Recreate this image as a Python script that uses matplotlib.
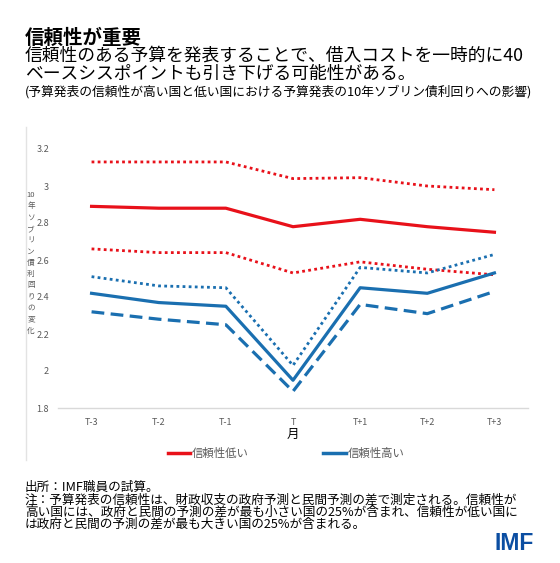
import matplotlib.pyplot as plt
from matplotlib.lines import Line2D

plt.rcParams['font.family'] = ['Noto Sans CJK JP', 'DejaVu Sans']

months = ['T-3', 'T-2', 'T-1', 'T', 'T+1', 'T+2', 'T+3']
low_mid = [2.89, 2.88, 2.88, 2.78, 2.82, 2.78, 2.75]
low_upper = [3.13, 3.13, 3.13, 3.04, 3.045, 3.00, 2.98]
low_lower = [2.66, 2.64, 2.64, 2.53, 2.59, 2.55, 2.52]
high_mid = [2.42, 2.37, 2.35, 1.95, 2.45, 2.42, 2.53]
high_upper = [2.51, 2.46, 2.45, 2.03, 2.56, 2.53, 2.63]
high_lower = [2.32, 2.28, 2.25, 1.89, 2.36, 2.31, 2.43]
yticks = [1.8, 2, 2.2, 2.4, 2.6, 2.8, 3, 3.2]
legend_labels = ['信頼性低い', '信頼性高い']

red = '#e8111a'
blue = '#1a6fb0'
grey = '#595959'

W, H = 560, 563
fig = plt.figure(figsize=(5.6, 5.63), dpi=100)
ax = fig.add_axes([58 / W, 1 - 408 / H, 470 / W, 259 / H])

x = range(len(months))
ax.plot(x, low_upper, color=red, lw=2, ls=(0, (1, 1.2)))
ax.plot(x, low_mid, color=red, lw=2.3)
ax.plot(x, low_lower, color=red, lw=2, ls=(0, (1, 1.2)))
ax.plot(x, high_upper, color=blue, lw=2, ls=(0, (1, 1.2)))
ax.plot(x, high_mid, color=blue, lw=2.3)
ax.plot(x, high_lower, color=blue, lw=2.3, ls=(0, (4, 2)))

ax.set_xlim(-0.5, 6.5)
ax.set_ylim(1.8, 3.2)
ax.set_xticks(list(x))
ax.set_xticklabels(months)
ax.set_yticks(yticks)
ax.set_yticklabels([f'{v:g}' for v in yticks])
ax.tick_params(length=0, labelsize=6.5, labelcolor=grey)
ax.tick_params(axis='x', pad=7)
ax.tick_params(axis='y', pad=6.5)
for s in ['top', 'right', 'left']:
    ax.spines[s].set_visible(False)
ax.spines['bottom'].set_color('#d9d9d9')
ax.spines['bottom'].set_linewidth(1)
ax.set_xlabel('月', fontsize=9, labelpad=1)

# vertical stacked y label
ylab = '\n'.join(['10'] + list('年ソブリン債利回りの変化'))
fig.text(31 / W, 1 - 191 / H, ylab, fontsize=5.5, color=grey, ha='center', va='top',
         linespacing=1.55)

# left border line
fig.add_artist(Line2D([26 / W, 26 / W], [1 - 127 / H, 1 - 460 / H], color='#e3e3e3', lw=1))

# legend, drawn by hand
for (x0, x1), col, lab in zip([(168, 190), (323, 346)], [red, blue], legend_labels):
    yy = 1 - 453 / H
    fig.add_artist(Line2D([x0 / W, x1 / W], [yy, yy], color=col, lw=2.5))
    fig.text((x1 + 2) / W, yy, lab, fontsize=8.2, color=grey, va='center')

# titles
fig.text(25 / W, 1 - 29 / H, '信頼性が重要', fontsize=14, fontweight='bold', va='top')
fig.text(25 / W, 1 - 47 / H, '信頼性のある予算を発表することで、借入コストを一時的に40\nベースシスポイントも引き下げる可能性がある。',
         fontsize=12.8, va='top', linespacing=1.0)
fig.text(25 / W, 1 - 85 / H, '(予算発表の信頼性が高い国と低い国における予算発表の10年ソブリン債利回りへの影響)',
         fontsize=9.2, va='top')

# footer
fig.text(25 / W, 1 - 481 / H,
         '出所：IMF職員の試算。\n'
         '注：予算発表の信頼性は、財政収支の政府予測と民間予測の差で測定される。信頼性が\n'
         '高い国には、政府と民間の予測の差が最も小さい国の25%が含まれ、信頼性が低い国に\n'
         'は政府と民間の予測の差が最も大きい国の25%が含まれる。',
         fontsize=9.1, va='top', linespacing=0.92)
fig.text(534 / W, 1 - 543 / H, 'IMF', fontsize=16.5, fontweight='bold', color='#0b4ea2',
         ha='right', va='center', family=['Liberation Sans', 'DejaVu Sans'])

fig.savefig('out.png', dpi=100)
